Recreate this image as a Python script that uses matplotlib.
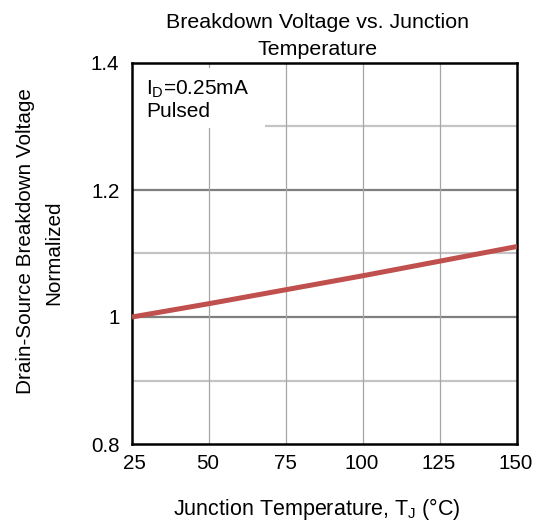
import matplotlib
matplotlib.use("Agg")
import matplotlib.pyplot as plt
import matplotlib.transforms as mtransforms
from matplotlib.patches import Rectangle

plt.rcParams['font.family'] = ['Liberation Sans', 'DejaVu Sans']
plt.rcParams['mathtext.fontset'] = 'custom'
plt.rcParams['mathtext.rm'] = 'Liberation Sans'
plt.rcParams['mathtext.it'] = 'Liberation Sans'

# Data
temperature = [25, 50, 75, 100, 125, 150]
bv_normalized = [1.000, 1.021, 1.043, 1.065, 1.088, 1.111]

x_ticks = [25, 50, 75, 100, 125, 150]
y_ticks = [0.8, 1.0, 1.2, 1.4]
y_tick_labels = ["0.8", "1", "1.2", "1.4"]
major_grid_y = [1.0, 1.2]
minor_grid_y = [0.9, 1.1, 1.3]
grid_x = [50, 75, 100, 125]

title_lines = ["Breakdown Voltage vs. Junction", "Temperature"]
xlabel = r"Junction Temperature, T$_\mathrm{J}$ (°C)"
ylabel_lines = ["Drain-Source Breakdown Voltage", "Normalized"]
note = "I$_\\mathrm{D}$=0.25mA\nPulsed"

W, H = 537, 523
fig = plt.figure(figsize=(W / 100, H / 100), dpi=100)
ax = fig.add_axes([132 / W, 1 - 444 / H, (517 - 132) / W, (444 - 63) / H])

ax.set_xlim(25, 150)
ax.set_ylim(0.8, 1.4)

for g in minor_grid_y:
    ax.axhline(g, color='#C4C4C4', lw=1.6, zorder=1)
for g in major_grid_y:
    ax.axhline(g, color='#7F7F7F', lw=1.6, zorder=1)
for g in grid_x:
    ax.axvline(g, color='#A6A6A6', lw=0.9, zorder=1)

# white box behind note
ax.add_patch(Rectangle((25.3, 1.2976), 43.0, 0.0944, facecolor='white',
                       edgecolor='none', zorder=2))
ax.text(29.5, 1.376, note, fontsize=15, va='top', ha='left', zorder=3,
        linespacing=1.18)

ax.plot(temperature, bv_normalized, color='#C0504D', lw=3.6, zorder=4,
        solid_capstyle='butt')

ax.set_xticks(x_ticks)
ax.set_yticks(y_ticks)
ax.set_yticklabels(y_tick_labels)
ax.tick_params(length=0, labelsize=14.8)
ax.tick_params(axis='y', pad=9)
ax.tick_params(axis='x', pad=7)
for i, lab in enumerate(ax.get_xticklabels()):
    dx = 2 if i == 0 else -1
    lab.set_transform(lab.get_transform() +
                      mtransforms.ScaledTranslation(dx / 100, 0, fig.dpi_scale_trans))
for s in ax.spines.values():
    s.set_linewidth(1.8)
    s.set_color('black')

# title (two lines)
fig.text(318 / W, 1 - 28 / H, title_lines[0], fontsize=15.4, ha='center', va='baseline')
fig.text(318 / W, 1 - 55 / H, title_lines[1], fontsize=15.4, ha='center', va='baseline')

# x label
fig.text(317 / W, 1 - 515 / H, xlabel, fontsize=15.5, ha='center', va='baseline')

# y label (two lines, rotated)
fig.text(26 / W, 1 - 241.5 / H, ylabel_lines[0], fontsize=14.9, rotation=90,
         ha='center', va='center')
fig.text(53.5 / W, 1 - 252.5 / H, ylabel_lines[1], fontsize=14.9, rotation=90,
         ha='center', va='center')

fig.savefig("out.png", dpi=100)
